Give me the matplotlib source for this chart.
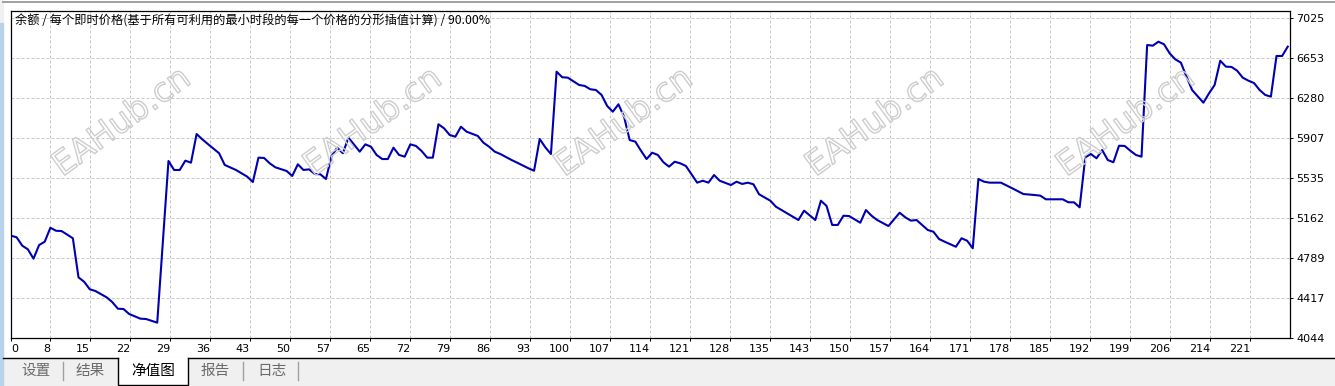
import numpy as np
import matplotlib
matplotlib.use('Agg')
import matplotlib.pyplot as plt
from matplotlib.patches import Rectangle
import matplotlib.patheffects as pe

W, H = 1335, 386

# balance after each trade
trade_no = [0, 1, 2, 3, 4, 5, 6, 7, 8, 9, 11, 12, 13, 14, 15, 17, 18, 19, 20, 21, 23, 24, 26, 28,
            29, 30, 31, 32, 33, 34, 35, 37, 38, 40, 42, 43, 44, 45, 46, 47, 49, 50, 51, 52, 53, 54,
            55, 56, 57, 58, 59, 60, 62, 63, 64, 65, 66, 67, 68, 69, 70, 71, 72, 73, 74, 75, 76, 77,
            78, 79, 80, 81, 83, 84, 85, 86, 87, 89, 90, 92, 93, 94, 95, 96, 97, 98, 99, 101, 102,
            103, 104, 105, 106, 107, 108, 109, 110, 111, 112, 113, 114, 115, 116, 117, 118, 119,
            120, 122, 123, 124, 125, 126, 128, 129, 130, 131, 132, 133, 135, 136, 137, 140, 141,
            143, 144, 145, 146, 147, 148, 149, 151, 152, 153, 154, 156, 158, 159, 160, 161, 163,
            164, 165, 166, 168, 169, 170, 171, 172, 173, 174, 176, 178, 180, 182, 183, 184, 187,
            188, 189, 190, 191, 192, 193, 194, 195, 196, 197, 198, 199, 200, 201, 202, 203, 204,
            205, 206, 207, 208, 209, 210, 212, 213, 214, 215, 216, 217, 218, 219, 220, 221, 222,
            223, 224, 225, 226, 227]
balance = [4997, 4982, 4904, 4870, 4783, 4910, 4941, 5071, 5043, 5040, 4973, 4609, 4568, 4498,
           4482, 4423, 4379, 4317, 4314, 4268, 4224, 4221, 4187, 5693,
           5609, 5609, 5696, 5677, 5944, 5895, 5851, 5765, 5656, 5609, 5547, 5497, 5724, 5721,
           5671, 5634, 5600, 5553, 5662, 5609, 5615, 5572, 5569, 5525, 5740, 5817, 5765, 5910,
           5780, 5848, 5826, 5749, 5711, 5711, 5817, 5749, 5733, 5848, 5833, 5786, 5724, 5724,
           6035, 5997, 5935, 5919, 6012, 5966, 5926, 5863, 5826, 5780, 5758, 5702, 5677, 5625,
           5602, 5898, 5820, 5758, 6525, 6473, 6469, 6401, 6392, 6361, 6354, 6308, 6205, 6152,
           6221, 6105, 5888, 5873, 5789, 5711, 5770, 5749, 5681, 5640, 5686, 5671, 5646, 5491,
           5509, 5491, 5562, 5509, 5469, 5500, 5479, 5491, 5476, 5383, 5323, 5267, 5236, 5143,
           5230, 5143, 5323, 5274, 5097, 5097, 5183, 5180, 5118, 5236, 5183, 5143, 5087, 5211,
           5168, 5137, 5143, 5050, 5034, 4966, 4941, 4894, 4973, 4950, 4880, 5525, 5500, 5491,
           5491, 5439, 5385, 5376, 5370, 5336, 5336, 5308, 5308, 5261, 5727, 5758, 5718, 5795,
           5702, 5681, 5835, 5833, 5789, 5749, 5733, 6773, 6767, 6804, 6780, 6696, 6640, 6609,
           6478, 6354, 6236, 6323, 6401, 6627, 6572, 6569, 6534, 6469, 6441, 6419, 6354, 6308,
           6292, 6671, 6671, 6758]

y_ticks = [4044, 4417, 4789, 5162, 5535, 5907, 6280, 6653, 7025]
x_labels = ['8', '15', '22', '29', '36', '43', '50', '57', '65', '72', '79', '86', '93', '100',
            '107', '114', '121', '128', '135', '143', '150', '157', '164', '171', '178', '185',
            '192', '199', '206', '214', '221']
title = '余额 / 每个即时价格(基于所有可利用的最小时段的每一个价格的分形插值计算) / 90.00%'
tabs = ['设置', '结果', '净值图', '报告', '日志']
watermark = 'EAHub.cn'

cjk = ['Noto Sans CJK SC', 'DejaVu Sans']

fig = plt.figure(figsize=(W / 100, H / 100), dpi=100)

# window background, pixel coordinates
bg = fig.add_axes([0, 0, 1, 1], zorder=0)
bg.set_xlim(0, W)
bg.set_ylim(H, 0)
bg.axis('off')
bg.add_patch(Rectangle((0, 0), W, H, color='white'))
bg.add_patch(Rectangle((0, 357.5), W, H - 357.5, color='#f0f0f0'))
bg.add_patch(Rectangle((0, 0), 3, H, color='#f0f0f0'))
bg.add_patch(Rectangle((0, 23), 3, H - 23, color='#b9d1ea'))
bg.plot([3, W], [1.5, 1.5], color='#a0a0a0', lw=1.4)

# main plot
ax = fig.add_axes([11 / W, 1 - 338 / H, 1279 / W, 327 / H], zorder=1)
x_max = 227.4
ax.plot(trade_no, balance, color='#0000b0', lw=1.5)
ax.set_xlim(0, x_max)
ax.set_ylim(4044, 7090)

grid_x = [x_max * (40 * k - 1) / 1279 for k in range(1, 32)]
ax.set_xticks([0] + grid_x, ['0'] + x_labels)
for i, lbl in enumerate(ax.get_xticklabels()):
    lbl.set_horizontalalignment('left' if i == 0 else 'right')
ax.yaxis.tick_right()
ax.set_yticks(y_ticks, [str(v) for v in y_ticks])
ax.tick_params(axis='both', direction='out', length=2.5, width=0.72, colors='black',
               labelsize=8, pad=2)
ax.grid(True, color='#c8c8c8', ls=(0, (3, 2)), lw=0.72)
for s in ax.spines.values():
    s.set_linewidth(0.9)
    s.set_color('black')

# site watermark (outline only)
wm = fig.add_axes([0, 0, 1, 1], zorder=2)
wm.set_xlim(0, W)
wm.set_ylim(H, 0)
wm.axis('off')
for cx in range(122, 1200, 251):
    wm.text(cx, 122, watermark, rotation=36, ha='center', va='center', fontsize=24,
            color='none',
            path_effects=[pe.Stroke(linewidth=1.0, foreground='#cdcdcd')])

# text and tabs
fg = fig.add_axes([0, 0, 1, 1], zorder=3)
fg.set_xlim(0, W)
fg.set_ylim(H, 0)
fg.axis('off')
fg.text(15, 21, title, family=cjk, fontsize=8.8, va='center', ha='left', color='black')

fg.plot([3, 118], [357.5, 357.5], color='black', lw=1)
fg.plot([188, W], [357.5, 357.5], color='black', lw=1)
fg.add_patch(Rectangle((118, 357.5), 70, 27, facecolor='white', edgecolor='none'))
fg.plot([118, 118, 188, 188], [357.5, 384.5, 384.5, 357.5], color='black', lw=1)
for sx in [63, 243, 298]:
    fg.plot([sx, sx], [362, 380], color='#a0a0a0', lw=1)
tab_x = [36.5, 90.5, 153.5, 215.5, 271.5]
for i, (tx, name) in enumerate(zip(tab_x, tabs)):
    fg.text(tx, 371, name, family=cjk, fontsize=10.5, ha='center', va='center',
            color='black' if i == 2 else '#6a6a6a')

fig.savefig('out.png', dpi=100)
